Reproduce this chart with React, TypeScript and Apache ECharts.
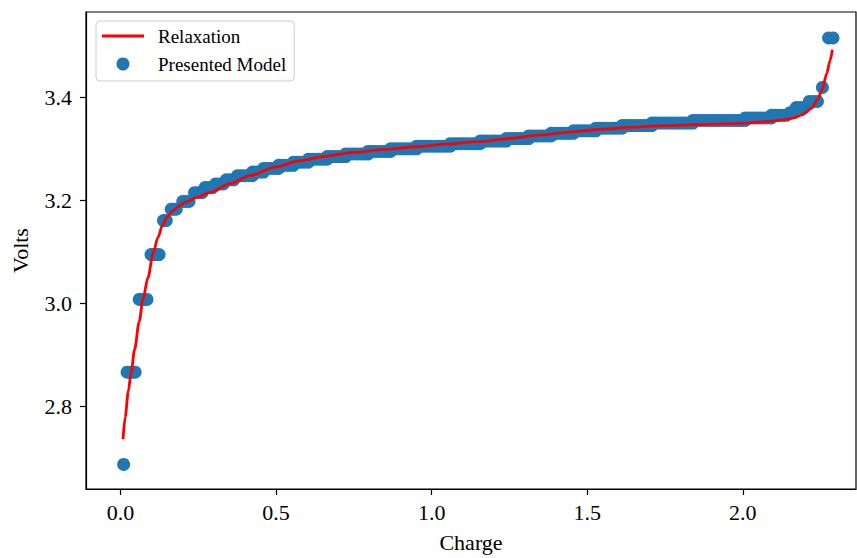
import React, { useEffect, useRef } from "react";
import * as echarts from "echarts";

// Relaxation curve (red line)
const relaxCharge = [
  0.008, 0.015, 0.025, 0.034, 0.045, 0.06, 0.072, 0.088, 0.105, 0.12, 0.135, 0.15, 0.17, 0.19, 0.21,
  0.25, 0.29, 0.35, 0.416, 0.5, 0.577, 0.65, 0.75, 0.85, 0.95, 1.05, 1.15, 1.25, 1.35, 1.45, 1.55,
  1.65, 1.75, 1.85, 1.95, 2.0, 2.06, 2.1, 2.14, 2.165, 2.19, 2.22, 2.24, 2.255, 2.27, 2.28, 2.288,
];
const relaxVolts = [
  2.737, 2.78, 2.83, 2.866, 2.91, 2.965, 3.008, 3.05, 3.098, 3.128, 3.152, 3.168, 3.181, 3.19, 3.197,
  3.207, 3.216, 3.232, 3.248, 3.265, 3.277, 3.285, 3.293, 3.299, 3.304, 3.309, 3.314, 3.32, 3.327, 3.333, 3.338,
  3.342, 3.345, 3.347, 3.349, 3.35, 3.352, 3.354, 3.357, 3.36, 3.366, 3.378, 3.395, 3.415, 3.446, 3.47, 3.492,
];

// Presented model (scatter): quantised voltage levels and the charges observed at each level
const modelLevels = [
  2.688, 2.867, 3.008, 3.095, 3.161, 3.183, 3.198, 3.215, 3.225, 3.232, 3.24, 3.248, 3.255, 3.262,
  3.268, 3.274, 3.28, 3.285, 3.29, 3.295, 3.3, 3.305, 3.31, 3.315, 3.32, 3.325, 3.33, 3.335, 3.34,
  3.345, 3.35, 3.355, 3.36, 3.365, 3.37, 3.38, 3.392, 3.419, 3.515,
];
const modelChargesAtLevel: number[][] = [
  [0.01],
  [0.021, 0.03, 0.039, 0.047],
  [0.06, 0.068, 0.077, 0.085],
  [0.098, 0.106, 0.115, 0.124],
  [0.138, 0.147],
  [0.163, 0.171, 0.179],
  [0.2, 0.21, 0.22],
  [0.238, 0.25, 0.262],
  [0.272, 0.284, 0.296],
  [0.306, 0.318, 0.33],
  [0.34, 0.352, 0.364],
  [0.376, 0.388, 0.4, 0.412, 0.424],
  [0.424, 0.436, 0.448, 0.46],
  [0.46, 0.472, 0.484, 0.496, 0.508],
  [0.508, 0.52, 0.532, 0.544, 0.556],
  [0.556, 0.568, 0.58, 0.592, 0.604],
  [0.604, 0.616, 0.628, 0.64, 0.652, 0.664],
  [0.664, 0.676, 0.688, 0.7, 0.712, 0.724],
  [0.724, 0.736, 0.748, 0.76, 0.772, 0.784, 0.796],
  [0.796, 0.808, 0.82, 0.832, 0.844, 0.856, 0.868],
  [0.868, 0.88, 0.892, 0.904, 0.916, 0.928, 0.94, 0.952],
  [0.952, 0.964, 0.976, 0.988, 1.0, 1.012, 1.024, 1.036, 1.048, 1.06],
  [1.06, 1.072, 1.084, 1.096, 1.108, 1.12, 1.132, 1.144, 1.156],
  [1.156, 1.168, 1.18, 1.192, 1.204, 1.216, 1.228, 1.24],
  [1.24, 1.252, 1.264, 1.276, 1.288, 1.3, 1.312],
  [1.312, 1.324, 1.336, 1.348, 1.36, 1.372, 1.384],
  [1.384, 1.396, 1.408, 1.42, 1.432, 1.444, 1.456],
  [1.456, 1.468, 1.48, 1.492, 1.504, 1.516, 1.528],
  [1.528, 1.54, 1.552, 1.564, 1.576, 1.588, 1.6, 1.612],
  [1.612, 1.624, 1.636, 1.648, 1.66, 1.672, 1.684, 1.696, 1.708],
  [1.708, 1.72, 1.732, 1.744, 1.756, 1.768, 1.78, 1.792, 1.804, 1.816, 1.828, 1.84],
  [1.84, 1.852, 1.864, 1.876, 1.888, 1.9, 1.912, 1.924, 1.936, 1.948, 1.96, 1.972, 1.984, 1.996, 2.008],
  [2.008, 2.02, 2.032, 2.044, 2.056, 2.068, 2.08, 2.092],
  [2.092, 2.104, 2.116, 2.128, 2.14],
  [2.152, 2.162],
  [2.172, 2.185, 2.198],
  [2.214, 2.227, 2.24],
  [2.256],
  [2.276, 2.29],
];

const xTicks = [0.0, 0.5, 1.0, 1.5, 2.0];
const yTicks = [2.8, 3.0, 3.2, 3.4];

const FONT = "'Liberation Serif', 'Times New Roman', serif";

export default function App() {
  const ref = useRef<HTMLDivElement>(null);
  useEffect(() => {
    if (!ref.current) return;
    const chart = echarts.init(ref.current, undefined, { renderer: "svg" });
    const lineData = relaxCharge.map((c, i) => [c, relaxVolts[i]]);
    const scatterData: number[][] = [];
    modelLevels.forEach((v, i) => {
      modelChargesAtLevel[i].forEach((c) => scatterData.push([c, v]));
    });
    chart.setOption({
      animation: false,
      backgroundColor: "#ffffff",
      grid: {
        left: 86,
        right: 1,
        top: 12,
        bottom: 63,
        show: true,
        borderColor: "#000000",
        borderWidth: 1.2,
        containLabel: false,
      },
      legend: {
        left: 96,
        top: 21,
        orient: "vertical",
        data: [
          { name: "Relaxation", icon: "path://M0,0 L42,0 L42,2.8 L0,2.8 Z" },
          { name: "Presented Model", icon: "circle" },
        ],
        symbolKeepAspect: true,
        itemWidth: 42,
        itemHeight: 13,
        itemGap: 8,
        padding: [5, 8, 7, 6],
        backgroundColor: "#ffffff",
        borderColor: "#cccccc",
        borderWidth: 1,
        borderRadius: 4,
        textStyle: {
          fontFamily: FONT,
          fontSize: 19,
          color: "#000000",
          lineHeight: 20,
          padding: [0, 0, 0, 9],
        },
      },
      xAxis: {
        type: "value",
        min: -0.111,
        max: 2.364,
        name: "Charge",
        nameLocation: "middle",
        nameGap: 42,
        nameTextStyle: { fontFamily: FONT, fontSize: 22, color: "#000000" },
        splitLine: { show: false },
        axisLine: { show: true, onZero: false, lineStyle: { color: "#000000", width: 1.2 } },
        axisTick: {
          show: true,
          inside: false,
          length: 6,
          customValues: xTicks,
          lineStyle: { color: "#000000", width: 1.2 },
        },
        axisLabel: {
          customValues: xTicks,
          margin: 12,
          fontFamily: FONT,
          fontSize: 22,
          color: "#000000",
          formatter: (v: number) => v.toFixed(1),
        },
      },
      yAxis: {
        type: "value",
        min: 2.6404,
        max: 3.5653,
        name: "Volts",
        nameLocation: "middle",
        nameGap: 55,
        nameRotate: 90,
        nameTextStyle: { fontFamily: FONT, fontSize: 22, color: "#000000" },
        splitLine: { show: false },
        axisLine: { show: true, onZero: false, lineStyle: { color: "#000000", width: 1.2 } },
        axisTick: {
          show: true,
          inside: false,
          length: 6,
          customValues: yTicks,
          lineStyle: { color: "#000000", width: 1.2 },
        },
        axisLabel: {
          customValues: yTicks,
          margin: 14,
          fontFamily: FONT,
          fontSize: 22,
          color: "#000000",
          formatter: (v: number) => v.toFixed(1),
        },
      },
      series: [
        {
          name: "Presented Model",
          type: "scatter",
          data: scatterData,
          symbol: "circle",
          symbolSize: 13,
          itemStyle: { color: "#1f77b4", opacity: 1 },
          z: 2,
        },
        {
          name: "Relaxation",
          type: "line",
          data: lineData,
          symbol: "none",
          showSymbol: false,
          smooth: 0.3,
          smoothMonotone: "x",
          lineStyle: { color: "#ff0000", width: 2.8 },
          itemStyle: { color: "#ff0000" },
          z: 3,
        },
      ],
    });
    return () => chart.dispose();
  }, []);
  return <div ref={ref} style={{ width: 857, height: 558, position: "absolute", left: 0, top: 0 }} />;
}
